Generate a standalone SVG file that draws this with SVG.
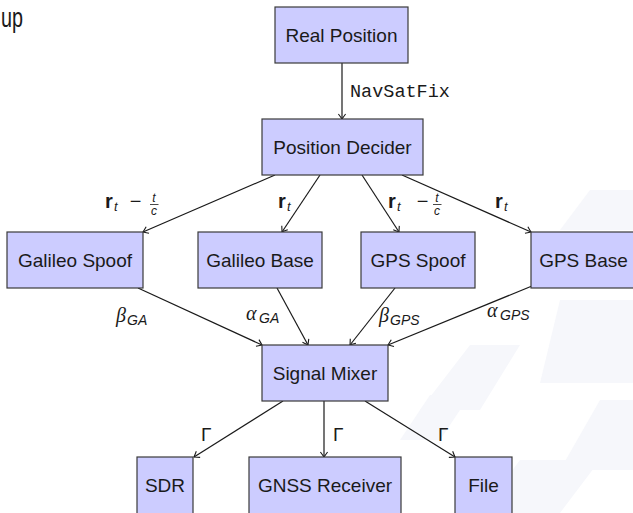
<svg xmlns="http://www.w3.org/2000/svg" width="633" height="513" viewBox="0 0 633 513">
<defs>
<style>
.box{fill:#ccccff;stroke:#3a3a3a;stroke-width:1.2}
.lbl{font-family:"Liberation Sans",Arial,sans-serif;font-size:19px;fill:#1a1a1a;text-anchor:middle}
.edge{stroke:#1a1a1a;stroke-width:1.2;fill:none;marker-end:url(#arr)}
.m{font-family:"Liberation Sans",Arial,sans-serif;fill:#1a1a1a}
.g{font-family:"Liberation Serif","Times New Roman",serif;font-style:italic;fill:#1a1a1a;font-size:20px}
.bg{fill:#f6f7fb}
</style>
<marker id="arr" markerWidth="10" markerHeight="10" viewBox="-6 -5 7 10" refX="0" refY="0" orient="auto" markerUnits="userSpaceOnUse">
<path d="M-5,-3.6 Q-1.2,-0.8 0,0 Q-1.2,0.8 -5,3.6" fill="none" stroke="#1a1a1a" stroke-width="1.1"/>
</marker>
</defs>
<rect width="633" height="513" fill="#ffffff"/>
<g id="background">
<polygon class="bg" points="560,300 633,300 633,383 540,383"/>
<polygon class="bg" points="470,345 520,345 480,410 420,410"/>
<polygon class="bg" points="600,400 633,400 633,470 560,470"/>
<polygon class="bg" points="520,460 600,460 560,513 480,513"/>
<polygon class="bg" points="590,190 633,190 633,230 560,230"/>
<polygon class="bg" points="430,395 470,395 440,440 400,440"/>
</g>
<text x="1" y="27" font-family="Liberation Sans,Arial,sans-serif" font-size="27" fill="#1a1a1a" textLength="22" lengthAdjust="spacingAndGlyphs">up</text>
<g id="connectors">
<line class="edge" x1="342" y1="63" x2="342" y2="119"/>
<line class="edge" x1="275" y1="175" x2="143" y2="232"/>
<line class="edge" x1="320" y1="175" x2="282" y2="232"/>
<line class="edge" x1="362" y1="175" x2="399" y2="232"/>
<line class="edge" x1="402" y1="175" x2="531" y2="232"/>
<line class="edge" x1="138" y1="288" x2="262" y2="345"/>
<line class="edge" x1="277" y1="288" x2="308" y2="345"/>
<line class="edge" x1="395" y1="288" x2="350" y2="345"/>
<line class="edge" x1="532" y1="286" x2="388" y2="345"/>
<line class="edge" x1="283" y1="401" x2="194" y2="457"/>
<line class="edge" x1="324" y1="401" x2="324" y2="457"/>
<line class="edge" x1="365" y1="401" x2="455" y2="457"/>
<text x="350" y="97" font-family="Liberation Mono,Courier New,monospace" font-size="18.5" fill="#1a1a1a">NavSatFix</text>
<g id="lbl-rt1">
<text class="m" x="105" y="208" font-size="20" font-weight="bold">r</text>
<text class="m" x="114" y="211" font-size="13" font-style="italic">t</text>
<text class="m" x="135.5" y="208" font-size="20" text-anchor="middle">−</text>
<text class="m" x="154" y="202" font-size="12" font-style="italic" text-anchor="middle">t</text>
<line x1="150" y1="204.5" x2="158.5" y2="204.5" stroke="#1a1a1a" stroke-width="0.8"/>
<text class="m" x="154" y="215" font-size="12" font-style="italic" text-anchor="middle">c</text>
</g>
<g id="lbl-rt2">
<text class="m" x="278" y="208" font-size="20" font-weight="bold">r</text>
<text class="m" x="287" y="211" font-size="13" font-style="italic">t</text>
</g>
<g id="lbl-rt3">
<text class="m" x="388" y="208" font-size="20" font-weight="bold">r</text>
<text class="m" x="397" y="211" font-size="13" font-style="italic">t</text>
<text class="m" x="422.5" y="208" font-size="20" text-anchor="middle">−</text>
<text class="m" x="437" y="202" font-size="12" font-style="italic" text-anchor="middle">t</text>
<line x1="433" y1="204.5" x2="441.5" y2="204.5" stroke="#1a1a1a" stroke-width="0.8"/>
<text class="m" x="437" y="215" font-size="12" font-style="italic" text-anchor="middle">c</text>
</g>
<g id="lbl-rt4">
<text class="m" x="495" y="208" font-size="20" font-weight="bold">r</text>
<text class="m" x="504" y="211" font-size="13" font-style="italic">t</text>
</g>
<g id="lbl-bga"><text class="g" x="116" y="322">β</text><text class="m" x="127" y="325" font-size="14" font-style="italic">GA</text></g>
<g id="lbl-aga"><text class="g" x="246" y="320">α</text><text class="m" x="259" y="323" font-size="14" font-style="italic">GA</text></g>
<g id="lbl-bgps"><text class="g" x="379" y="322">β</text><text class="m" x="390" y="325" font-size="14" font-style="italic">GPS</text></g>
<g id="lbl-agps"><text class="g" x="487" y="317">α</text><text class="m" x="500" y="320" font-size="14" font-style="italic">GPS</text></g>
<text class="m" x="201" y="441" font-size="19">Γ</text>
<text class="m" x="333" y="441" font-size="19">Γ</text>
<text class="m" x="438" y="441" font-size="19">Γ</text>
</g>
<g id="real-position"><rect class="box" x="275" y="7" width="133" height="56"/><text class="lbl" x="341.5" y="42">Real Position</text></g>
<g id="position-decider"><rect class="box" x="262" y="119" width="161" height="56"/><text class="lbl" x="342.5" y="154">Position Decider</text></g>
<g id="galileo-spoof"><rect class="box" x="7" y="232" width="136" height="56"/><text class="lbl" x="75" y="267">Galileo Spoof</text></g>
<g id="galileo-base"><rect class="box" x="198" y="232" width="124" height="56"/><text class="lbl" x="260" y="267">Galileo Base</text></g>
<g id="gps-spoof"><rect class="box" x="361" y="232" width="114" height="56"/><text class="lbl" x="418" y="267">GPS Spoof</text></g>
<g id="gps-base"><rect class="box" x="531" y="232" width="106" height="56"/><text class="lbl" x="583.5" y="267">GPS Base</text></g>
<g id="signal-mixer"><rect class="box" x="262" y="345" width="126" height="56"/><text class="lbl" x="325" y="380">Signal Mixer</text></g>
<g id="sdr"><rect class="box" x="137" y="457" width="56" height="60"/><text class="lbl" x="165" y="492">SDR</text></g>
<g id="gnss-receiver"><rect class="box" x="249" y="457" width="152" height="60"/><text class="lbl" x="325" y="492">GNSS Receiver</text></g>
<g id="file"><rect class="box" x="455" y="457" width="57" height="60"/><text class="lbl" x="483.5" y="492">File</text></g>
</svg>
